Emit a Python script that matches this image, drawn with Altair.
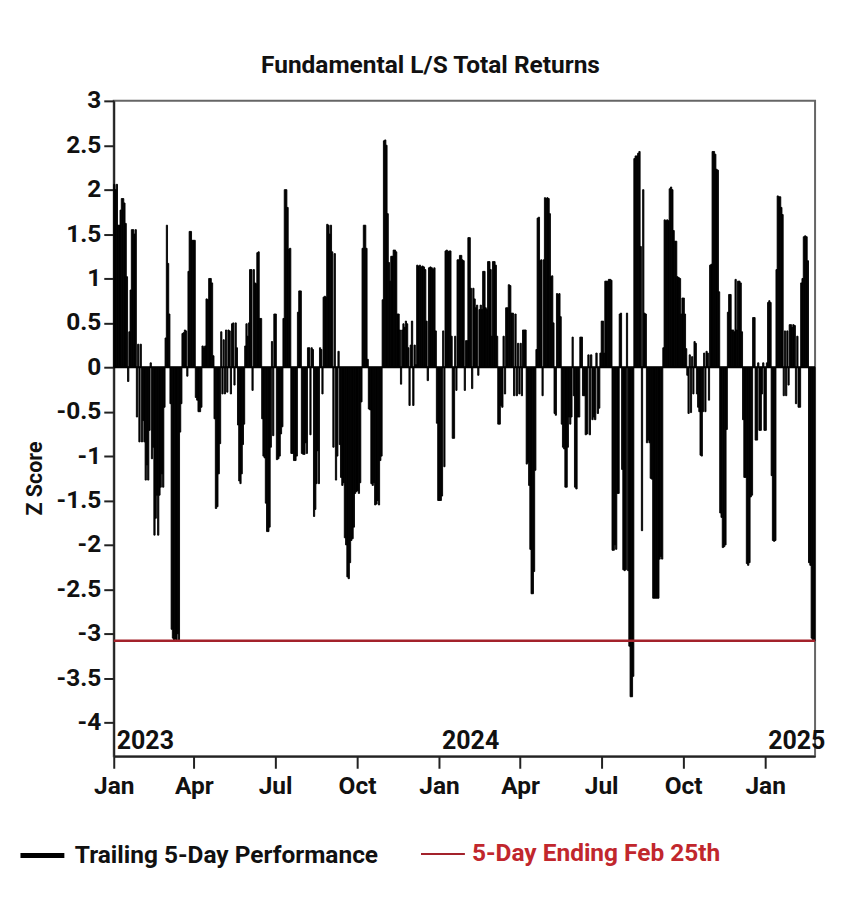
import altair as alt
import pandas as pd

# ---- data: trailing 5-day performance z-scores, one list per month (business days) ----
jan23 = [2.06, 2.0, 2.06, 1.6, 1.6, 1.77, 1.9, 1.9, 1.85, 1.62, 1.02, -0.16, 0.4, 0.87, 1.55, 1.55, 1.5, 1.55, -0.56, 0.26, -0.84, 0.26]
feb23 = [-0.84, -0.6, -0.84, -1.27, -1.1, -1.27, -0.71, 0.05, -1.03, -0.9, -1.89, -1.7, -1.44, -1.89, -1.44, -1.35, -1.2, -1.35, -0.45, 0.33]
mar23 = [1.6, 1.17, 0.6, -0.41, -2.95, -3.05, -3.08, -3.06, -3.08, -3.0, -3.07, -0.73, -0.41, 0.38, 0.39, 0.42, 0.41, -0.1, 1.08, 1.53, 1.53, 1.43, 1.43]
apr23 = [1.43, -0.34, -0.37, -0.5, -0.5, -0.45, 0.24, 0.22, 0.24, 0.77, 0.76, 1.0, 1.0, 0.95, 0.13, -0.58, -1.59, -1.57, -1.2, -0.86]
may23 = [0.4, -0.3, 0.31, -0.3, 0.42, -0.28, 0.42, 0.41, -0.3, 0.49, 0.5, -0.2, 0.5, 0.22, -0.65, -1.28, -1.31, -1.2, -0.87, -0.64, 0.24, 0.49, 0.35]
jun23 = [0.5, 1.1, 1.1, -0.26, 1.1, 0.95, 0.94, 1.29, 1.3, 0.55, 0.55, -0.58, -1.0, -1.02, -1.53, -1.85, -1.85, -1.8, -0.9, 0.29, -0.77, 0.6]
jul23 = [0.6, -1.04, -1.03, -1.0, -0.75, -0.67, 0.55, 2.0, 2.0, 1.8, 1.33, 1.34, -0.97, -0.97, -1.05, -1.05, -1.0, 0.62, 0.86, 0.86, -0.97]
aug23 = [-0.98, -0.98, -0.85, -0.97, 0.22, 0.22, -0.76, 0.22, 0.2, -1.68, -1.6, -1.31, -0.94, -1.31, 0.22, 0.2, -0.3, 0.79, 0.8, 0.79, 1.61, 1.6, 1.5]
sep23 = [1.6, 1.3, -0.9, 1.28, -1.27, -1.0, 0.18, -0.87, -1.24, -1.33, -1.3, -1.92, -2.0, -2.36, -2.38, -2.2, -1.95, -1.93, -1.8, -1.42, -1.4]
oct23 = [-1.39, -1.42, -1.3, -0.39, 1.34, 1.6, 1.6, 1.34, 0.09, -0.47, -0.48, -1.31, -1.33, -1.3, -1.55, -1.54, -1.5, -1.55, -1.05, -1.0, 0.76, 2.55]
nov23 = [2.56, 2.5, 1.73, 1.18, 0.97, 1.25, 1.25, 1.32, 1.32, 1.3, 0.6, 0.6, 0.42, -0.19, 0.42, 0.49, 0.45, 0.52, 0.49, 0.22, -0.43, 0.25]
dec23 = [0.52, -0.43, 0.25, 0.03, 1.15, 1.14, 1.15, 1.13, 1.14, 1.13, 1.1, 0.52, -0.15, 1.12, 1.13, 1.12, 1.1, 1.12, 0.41, -0.63, -1.5]
jan24 = [-1.5, -1.5, -1.45, 0.41, -1.12, 1.31, 1.32, 1.3, 1.31, 1.31, 0.35, -0.8, -0.8, 0.35, -0.26, 1.21, 1.21, 1.26, 1.26, 1.21, 1.2, -0.26, 0.3]
feb24 = [0.3, 1.46, 1.46, 0.89, -0.24, 0.89, 0.77, 0.67, 0.7, -0.09, 0.65, 0.7, 0.65, 1.08, 1.08, 0.67, 0.65, 1.19, 1.19, 1.1, 0.35]
mar24 = [1.19, 1.19, 1.15, 0.35, -0.64, -0.64, -0.43, -0.45, 0.35, -0.3, 0.67, 0.67, 0.93, 0.92, 0.61, 0.61, -0.32, 0.6, -0.32, 0.27, -0.3]
apr24 = [0.27, -0.32, 0.42, 0.42, 0.42, -1.09, -1.07, -1.33, -2.05, -2.55, -2.55, -2.3, -1.16, 0.2, 1.68, 1.69, 1.2, 1.21, -0.32, 1.21, 1.91, 1.9]
may24 = [1.91, 1.9, 1.73, 1.02, 1.03, 0.5, -0.52, -0.54, 0.83, 0.82, 0.83, 0.57, -0.64, -0.9, -0.92, -1.35, -1.35, -0.9, -0.56, -0.64, -0.56, 0.34, -0.32]
jun24 = [-1.35, -1.37, -0.56, -0.56, 0.34, 0.34, -0.32, -0.32, -0.76, -0.75, 0.14, -0.76, 0.14, -0.59, -0.56, -0.59, 0.16, -0.52, -0.46, 0.16]
jul24 = [0.52, 0.52, 0.16, 0.97, 0.97, 0.97, 0.99, 0.99, 0.98, -2.06, -2.06, -2.0, -2.05, -1.42, -1.42, 0.6, 0.61, -1.15, -2.28, -2.29, -2.28, 0.61, -2.29]
aug24 = [-3.14, -3.71, -3.71, -3.48, 2.35, 2.38, 2.38, 2.41, 2.43, 1.36, -1.84, 2.0, 0.61, 0.6, -0.85, -0.82, -0.85, -1.25, -1.26, -2.6, -2.6, -2.6]
sep24 = [-2.6, -2.6, -2.16, -2.13, -2.16, 0.22, 1.66, 1.65, 1.66, 1.65, 2.01, 2.03, 2.0, 1.54, 1.42, 1.42, 1.02, 1.01, 1.0, 0.6, 0.78]
oct24 = [0.78, 0.6, 0.21, -0.09, -0.52, 0.14, -0.51, 0.12, -0.3, 0.29, 0.27, -0.3, -0.45, -0.5, -0.99, -1.0, -0.5, 0.16, -0.5, 0.18, 0.16, -0.37, 1.15]
nov24 = [1.16, 2.43, 2.43, 2.4, 2.23, 2.22, 0.85, -1.64, -1.69, -2.03, -2.02, -2.0, -0.7, 0.62, 0.82, 0.82, 0.42, 0.42, 0.4, 0.99, 0.42]
dec24 = [0.97, 0.97, 0.95, 0.4, -0.59, -1.24, -1.24, -2.21, -2.23, -2.2, -1.46, -1.44, 0.56, 0.56, -0.82, -0.82, 0.05, -0.71, -0.71, -0.3, 0.05, -0.71]
jan25 = [-0.71, 0.05, 0.73, 0.75, 0.73, -1.22, -1.95, -1.96, -1.95, 1.1, 1.93, 1.92, 1.92, 1.8, 1.72, -0.32, 0.41, -0.32, 0.41, -0.2, 0.48, 0.48, 0.45]
feb25 = [0.48, 0.47, -0.41, 0.35, -0.45, -0.45, 0.95, 1.0, 1.47, 1.48, 1.47, 1.2, -2.2, -2.23, -3.05, -3.08, -3.08]

months = [jan23, feb23, mar23, apr23, may23, jun23, jul23, aug23, sep23, oct23, nov23, dec23,
          jan24, feb24, mar24, apr24, may24, jun24, jul24, aug24, sep24, oct24, nov24, dec24,
          jan25, feb25]
first_month = "2023-01-01"
last_day = "2025-02-26"

series_name = "Trailing 5-Day Performance"
latest_name = "5-Day Ending Feb 25th"
year_labels = ["2023", "2024", "2025"]
y_ticks = [-4, -3.5, -3, -2.5, -2, -1.5, -1, -0.5, 0, 0.5, 1, 1.5, 2, 2.5, 3]
quarter_ticks = [(2023, 1), (2023, 4), (2023, 7), (2023, 10), (2024, 1), (2024, 4),
                 (2024, 7), (2024, 10), (2025, 1)]

# ---- build table: each month's values share that month evenly ----
starts = pd.date_range(first_month, periods=len(months), freq="MS")
rows = []
for k, vals in enumerate(months):
    ms = starts[k]
    me = starts[k + 1] if k + 1 < len(months) else pd.Timestamp(last_day)
    span = me - ms
    n = len(vals)
    for i, v in enumerate(vals):
        a = ms + span * i / n
        b = ms + span * (i + 1) / n
        rows.append({"start": a.strftime("%Y-%m-%dT%H:%M:%S"),
                     "end": b.strftime("%Y-%m-%dT%H:%M:%S"),
                     "value": v, "series": series_name})
df = pd.DataFrame(rows)
latest = pd.DataFrame({"value": [feb25[-1]], "series": [latest_name]})
years = pd.DataFrame({"date": [f"{y}-01-01T00:00:00" for y in year_labels], "label": year_labels})

FONT = "Roboto"
FS = 24.5
W, H = 703, 657

xscale = alt.Scale(domain=[alt.DateTime(year=2023, month=1, date=1),
                           alt.DateTime(year=2025, month=2, date=26)])
yscale = alt.Scale(domain=[-4.38, 3], nice=False, zero=False)

bars = alt.Chart(df).mark_bar(stroke="black", strokeWidth=0.9).encode(
    x=alt.X("start:T", scale=xscale,
            axis=alt.Axis(values=[alt.DateTime(year=y, month=m, date=1) for y, m in quarter_ticks],
                          format="%b", title=None, tickSize=12, labelPadding=6,
                          labelFontSize=FS, labelFontWeight="bold", labelFont=FONT,
                          labelColor="#111", domainColor="#222", domainWidth=2,
                          tickColor="#222", tickWidth=2, grid=False, labelFlush=False)),
    x2="end:T",
    y=alt.Y("value:Q", scale=yscale,
            axis=alt.Axis(values=y_ticks, labelExpr="datum.value + ''", title="Z Score",
                          tickSize=10, labelPadding=3, labelFontSize=FS,
                          labelFontWeight="bold", labelFont=FONT, labelColor="#111",
                          domainColor="#222", domainWidth=2, tickColor="#222",
                          tickWidth=2, grid=False, titleFont=FONT, titleFontSize=21.5,
                          titleFontWeight="bold", titleColor="#111", titleX=-67,
                          titleY=378)),
    y2=alt.datum(0),
    color=alt.Color("series:N", scale=alt.Scale(range=["black"]),
                    legend=alt.Legend(title=None, orient="none", legendX=-96, legendY=732,
                                      symbolType="stroke", symbolStrokeColor="black",
                                      symbolStrokeWidth=5, symbolSize=1936,
                                      labelFont=FONT, labelFontSize=FS, labelLimit=600,
                                      labelFontWeight="bold", labelColor="#111",
                                      labelOffset=8)),
)

zero = alt.Chart(latest).mark_rule(color="black", strokeWidth=2).encode(y=alt.datum(0))

redline = alt.Chart(latest).mark_rule(strokeWidth=2.5).encode(
    y=alt.Y("value:Q", scale=yscale),
    stroke=alt.Stroke("series:N", scale=alt.Scale(range=["#a3222b"]),
                      legend=alt.Legend(title=None, orient="none", legendX=307, legendY=732,
                                        symbolStrokeWidth=2, symbolSize=1936,
                                        labelFont=FONT, labelFontSize=FS, labelLimit=600,
                                        labelFontWeight="bold", labelColor="#c1272d",
                                        labelOffset=6)),
)

year_text = alt.Chart(years).mark_text(align="left", baseline="alphabetic", dx=3,
                                       font=FONT, fontSize=25, fontWeight="bold",
                                       color="#111").encode(
    x=alt.X("date:T", scale=xscale),
    y=alt.value(H - 7),
    text="label:N",
)

chart = alt.layer(bars, zero, redline, year_text).properties(
    width=W, height=H,
    title=alt.TitleParams("Fundamental L/S Total Returns", font=FONT, fontSize=FS,
                          fontWeight="bold", color="#111", dx=-34, offset=9),
    autosize=alt.AutoSizeParams(type="none"),
    padding={"left": 106, "top": 92, "right": 25, "bottom": 150},
).configure_view(stroke="#666", strokeWidth=2).resolve_scale(color="independent")

chart.save("out.html", embed_options={"renderer": "svg", "actions": False})
